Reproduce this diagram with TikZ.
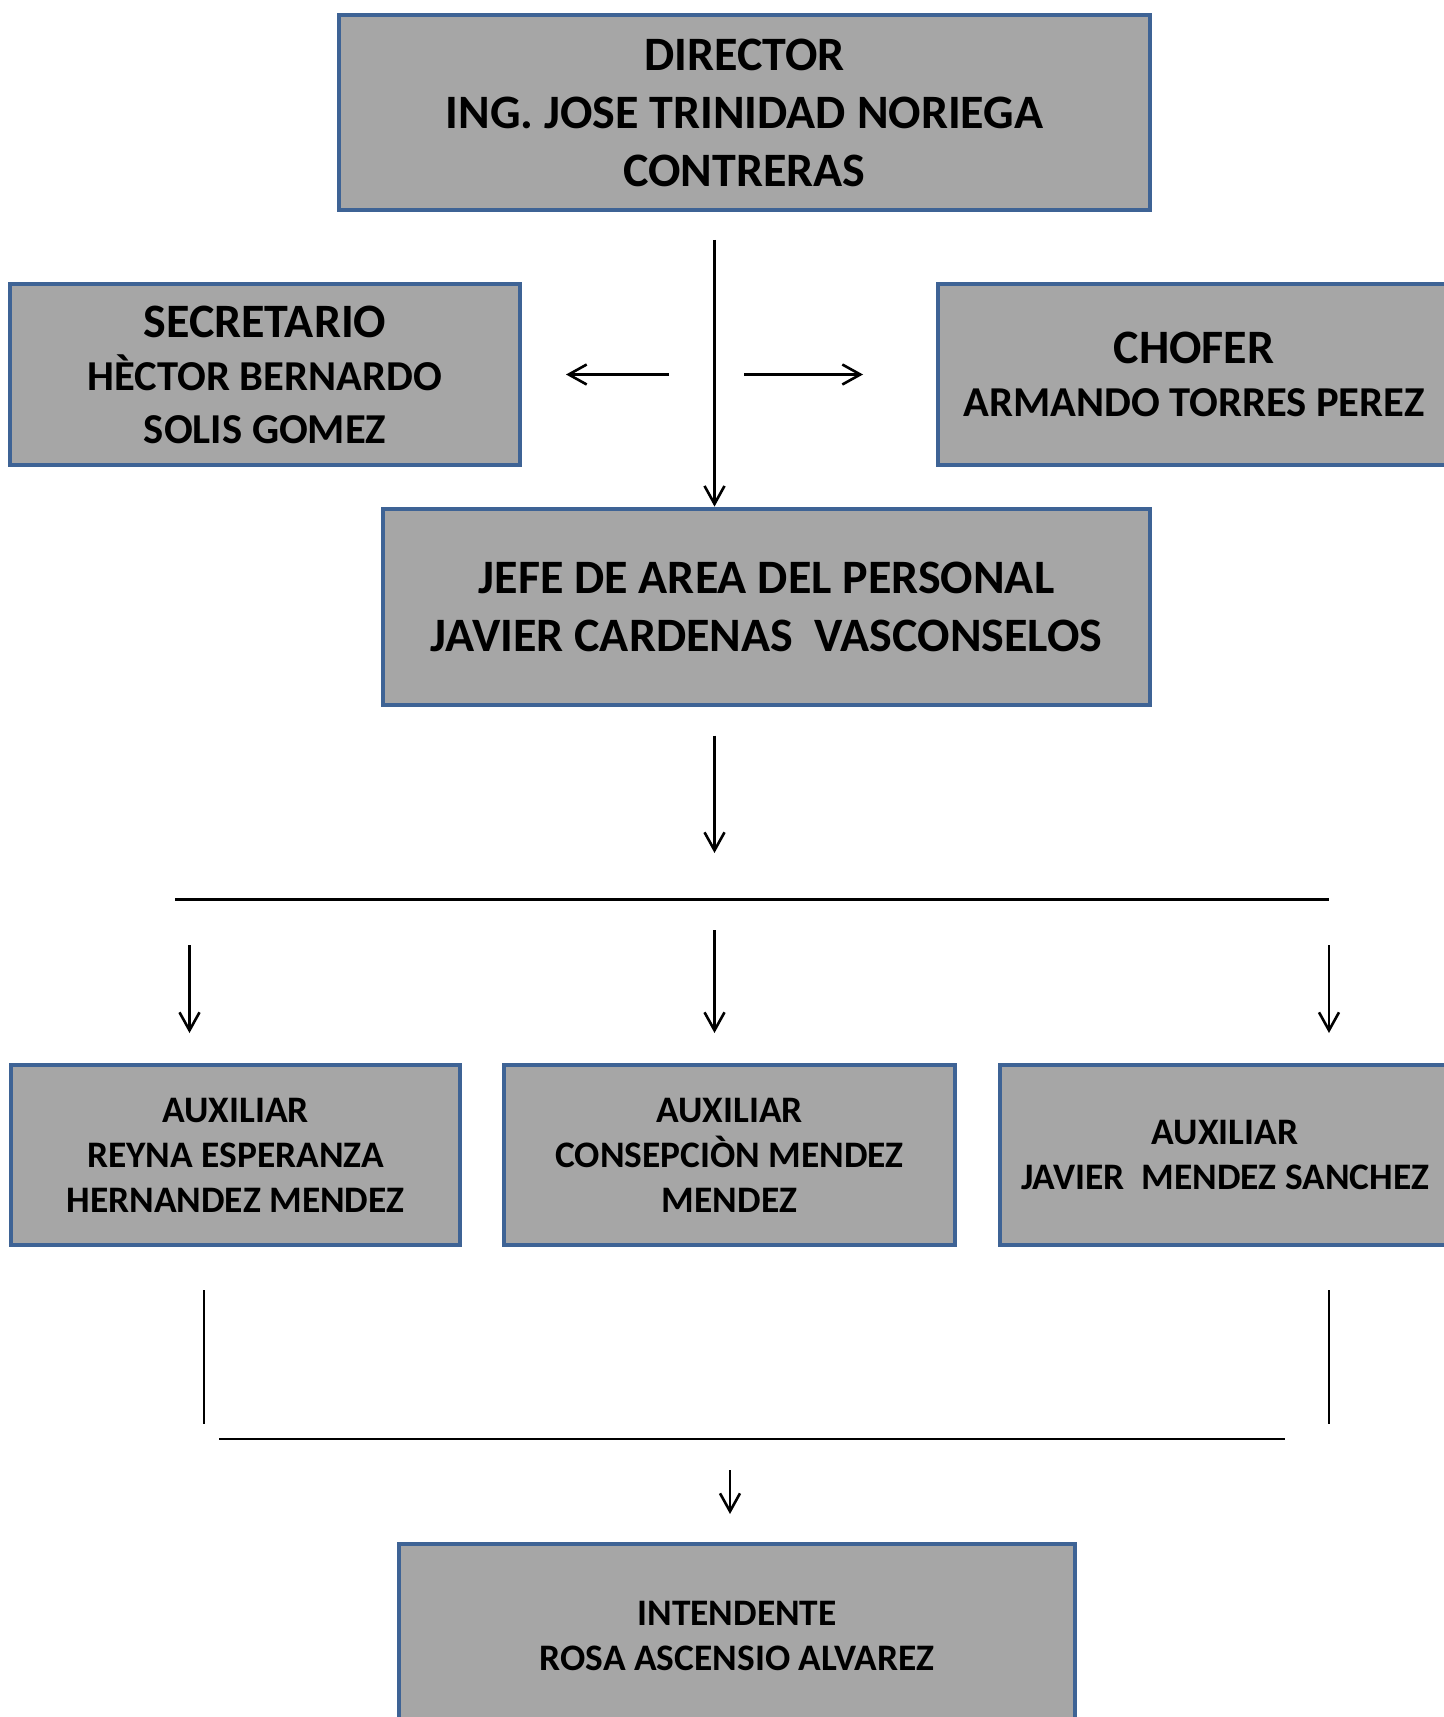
\documentclass[tikz,border=0pt]{standalone}
\usepackage{fontspec}
\setmainfont{Carlito}
\usetikzlibrary{arrows.meta}
\definecolor{bordblue}{HTML}{3E6395}
\definecolor{boxgray}{HTML}{A6A6A6}
\begin{document}
\begin{tikzpicture}[x=0.5pt,y=-0.5pt,
  orgbox/.style={draw=bordblue, fill=boxgray, line width=2.4pt, align=center, inner sep=0pt, text=black},
  bigtext/.style={font=\bfseries\fontsize{24}{29}\selectfont},
  midtext/.style={font=\bfseries\fontsize{21.3}{26.5}\selectfont},
  smalltext/.style={font=\bfseries\fontsize{18.7}{22.5}\selectfont},
  conn/.style={line width=1.3pt, black},
  arr/.style={conn, -{Straight Barb[length=9pt,width=10pt,line width=1.3pt]}}]
\useasboundingbox (0,0) rectangle (1444,1717);
\fill[white] (0,0) rectangle (1444,1717);

% boxes
\node[orgbox, bigtext, minimum width=405.5pt, minimum height=97.5pt] (dir) at (744.5,112.5)
  {DIRECTOR\\ING. JOSE TRINIDAD NORIEGA\\CONTRERAS};
\node[orgbox, midtext, minimum width=255pt, minimum height=90.5pt] (sec) at (265,374.5)
  {{\fontsize{24}{26.5}\selectfont SECRETARIO}\\HÈCTOR BERNARDO\\SOLIS GOMEZ};
\node[orgbox, midtext, minimum width=256pt, minimum height=90.5pt] (chof) at (1194,374.5)
  {{\fontsize{24}{26.5}\selectfont CHOFER}\\ARMANDO TORRES PEREZ};
\node[orgbox, bigtext, minimum width=383.5pt, minimum height=98pt] (jefe) at (766.5,607)
  {JEFE DE AREA DEL PERSONAL\\JAVIER CARDENAS\ \ VASCONSELOS};
\node[orgbox, smalltext, minimum width=224.5pt, minimum height=90pt] (aux1) at (235.5,1155)
  {AUXILIAR\\REYNA ESPERANZA\\HERNANDEZ MENDEZ};
\node[orgbox, smalltext, minimum width=225.5pt, minimum height=90pt] (aux2) at (729.5,1155)
  {AUXILIAR\\CONSEPCIÒN MENDEZ\\MENDEZ};
\node[orgbox, smalltext, minimum width=225pt, minimum height=90pt] (aux3) at (1225,1155)
  {AUXILIAR\\JAVIER\ \ MENDEZ SANCHEZ};
\node[orgbox, smalltext, minimum width=338pt, minimum height=91.5pt] (int) at (737,1635.5)
  {INTENDENTE\\ROSA ASCENSIO ALVAREZ};

% connector end points
\coordinate (dtop) at (714.5,240);
\coordinate (lt) at (669,374.5);
\coordinate (lh) at (566,374.5);
\coordinate (rt) at (744,374.5);
\coordinate (rh) at (863,374.5);
\coordinate (jt) at (714.5,735.5);
\coordinate (jh) at (714.5,853);
\coordinate (h1a) at (175,899.5);
\coordinate (h1b) at (1329,899.5);
\coordinate (a1t) at (189.5,945);
\coordinate (a1h) at (189.5,1033);
\coordinate (a2t) at (714.5,930);
\coordinate (a2h) at (714.5,1033);
\coordinate (a3t) at (1329,945);
\coordinate (a3h) at (1329,1033);
\coordinate (v1a) at (204,1290);
\coordinate (v1b) at (204,1424);
\coordinate (v3a) at (1329,1290);
\coordinate (v3b) at (1329,1424);
\coordinate (h2a) at (219,1439);
\coordinate (h2b) at (1284.5,1439);
\coordinate (it) at (730,1470);
\coordinate (ih) at (730,1514);

% connectors
\draw[arr] (dtop) -- (dtop |- jefe.north);
\draw[arr] (lt) -- (lh);
\draw[arr] (rt) -- (rh);
\draw[arr] (jt) -- (jh);
\draw[conn] (h1a) -- (h1b);
\draw[arr] (a1t) -- (a1h);
\draw[arr] (a2t) -- (a2h);
\draw[arr] (a3t) -- (a3h);
\draw[conn] (v1a) -- (v1b);
\draw[conn] (v3a) -- (v3b);
\draw[conn] (h2a) -- (h2b);
\draw[arr] (it) -- (ih);
\end{tikzpicture}
\end{document}
